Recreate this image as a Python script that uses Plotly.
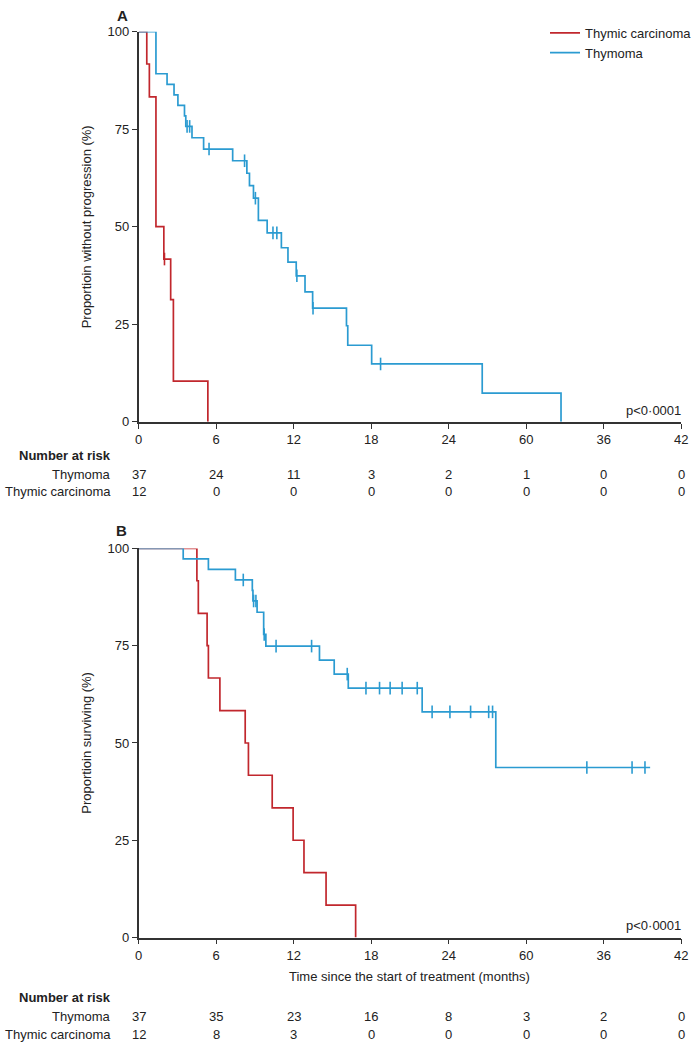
import numpy as np
import plotly.graph_objects as go

W, H = 697, 1050
FONT = "Liberation Sans, Arial, sans-serif"
RED = "#c1272d"
BLUE = "#2b9bd1"
INK = "#222222"

# ---------------- data ----------------
month_ticks = [0, 6, 12, 18, 24, 30, 36, 42]
month_tick_labels = ["0", "6", "12", "18", "24", "60", "36", "42"]

# Panel A: progression-free
pfs_thymoma_t = [0, 1.34, 2.2, 2.74, 3.04, 3.55, 3.65, 4.13, 5.03, 7.28, 8.38, 8.58, 8.89,
                 9.27, 9.95, 11.05, 11.56, 12.2, 12.88, 13.47, 16.09, 16.19, 18.04, 26.6, 32.7]
pfs_thymoma_s = [100, 89.2, 86.5, 83.8, 81.1, 78.4, 75.7, 72.8, 69.9, 66.9, 63.7, 60.5, 57.3,
                 51.6, 48.4, 44.6, 40.9, 37.4, 33.3, 29.1, 24.6, 19.6, 14.8, 7.3, 0]
pfs_thymoma_cens = [3.75, 3.95, 5.45, 8.2, 9.04, 10.4, 10.7, 12.25, 13.5, 18.73]

pfs_carcinoma_t = [0, 0.63, 0.83, 1.34, 1.95, 2.48, 2.69, 5.36]
pfs_carcinoma_s = [100, 91.7, 83.3, 50.0, 41.7, 31.3, 10.4, 0]
pfs_carcinoma_cens = [2.0]

# Panel B: overall survival
os_thymoma_t = [0, 3.45, 5.4, 7.49, 8.8, 8.85, 9.17, 9.68, 9.85, 14.0, 15.14, 16.23, 21.95, 27.65, 39.6]
os_thymoma_s = [100, 97.3, 94.6, 91.9, 89.2, 86.5, 83.6, 77.9, 74.9, 71.3, 67.7, 64.1, 58.0, 43.7, 43.7]
os_thymoma_cens = [8.1, 8.9, 9.08, 9.72, 10.64, 13.39, 16.15, 17.6, 18.65, 19.47, 20.4, 21.57,
                   22.72, 24.1, 25.7, 27.1, 27.4, 34.7, 38.2, 39.2]

os_carcinoma_t = [0, 4.51, 4.62, 5.3, 5.4, 6.29, 8.25, 8.5, 10.34, 11.96, 12.8, 14.51, 16.8]
os_carcinoma_s = [100, 91.7, 83.3, 75.0, 66.7, 58.3, 50.0, 41.7, 33.3, 25.0, 16.7, 8.3, 0]

risk_a_thymoma = [37, 24, 11, 3, 2, 1, 0, 0]
risk_a_carcinoma = [12, 0, 0, 0, 0, 0, 0, 0]
risk_b_thymoma = [37, 35, 23, 16, 8, 3, 2, 0]
risk_b_carcinoma = [12, 8, 3, 0, 0, 0, 0, 0]

group_names = ["Thymoma", "Thymic carcinoma"]

# ---------------- figure ----------------
def px(p):
    return p / W

def py(p):
    return 1 - p / H

fig = go.Figure()

def add_curve(t, s, cens, color, name, xa, ya, showlegend):
    fig.add_trace(go.Scatter(
        x=t, y=s, mode="lines", name=name, showlegend=showlegend,
        line=dict(color=color, width=1.7, shape="hv"),
        xaxis=xa, yaxis=ya, hoverinfo="skip"))
    if cens:
        ta = np.array(t)
        idx = np.searchsorted(ta, np.array(cens), side="right") - 1
        cy = np.array(s)[idx]
        fig.add_trace(go.Scatter(
            x=cens, y=cy, mode="markers", showlegend=False,
            marker=dict(symbol="line-ns-open", size=9, color=color,
                        line=dict(color=color, width=1.6)),
            xaxis=xa, yaxis=ya, hoverinfo="skip", cliponaxis=False))

add_curve(pfs_carcinoma_t, pfs_carcinoma_s, pfs_carcinoma_cens, RED, "Thymic carcinoma", "x", "y", True)
add_curve(pfs_thymoma_t, pfs_thymoma_s, pfs_thymoma_cens, BLUE, "Thymoma", "x", "y", True)
add_curve(os_carcinoma_t, os_carcinoma_s, [], RED, "Thymic carcinoma", "x2", "y2", False)
add_curve(os_thymoma_t, os_thymoma_s, os_thymoma_cens, BLUE, "Thymoma", "x2", "y2", False)

xdom = [px(136.8), px(688)]
axis_common = dict(showline=True, linecolor="#333333", linewidth=1.7, ticks="outside",
                   ticklen=5, tickwidth=1.4, tickcolor="#333333", showgrid=False,
                   zeroline=False, tickfont=dict(family=FONT, size=13, color=INK))
xcommon = dict(axis_common, range=[0, 42], tickvals=month_ticks, ticktext=month_tick_labels)
ycommon = dict(axis_common, range=[0, 100], tickvals=[0, 25, 50, 75, 100])

fig.update_layout(
    width=W, height=H, autosize=False,
    margin=dict(l=0, r=0, t=0, b=0),
    paper_bgcolor="white", plot_bgcolor="white",
    font=dict(family=FONT, size=13, color=INK),
    xaxis=dict(xcommon, domain=xdom, anchor="y"),
    yaxis=dict(ycommon, domain=[py(420.7), py(25)], anchor="x"),
    xaxis2=dict(xcommon, domain=xdom, anchor="y2"),
    yaxis2=dict(ycommon, domain=[py(944), py(549.3)], anchor="x2"),
    legend=dict(x=px(550), y=py(11), xanchor="left", yanchor="top",
                font=dict(family=FONT, size=13, color=INK), bgcolor="rgba(0,0,0,0)",
                itemwidth=30, tracegroupgap=0),
)

ann = []

def note(text, x, y, xanchor="center", yanchor="middle", size=13, angle=0, xref="paper"):
    ann.append(dict(text=text, x=x, y=y, xref=xref, yref="paper", xanchor=xanchor,
                    yanchor=yanchor, textangle=angle, showarrow=False,
                    font=dict(family=FONT, size=size, color=INK)))

# panel letters
note("<b>A</b>", px(120), py(8.5), size=15)
note("<b>B</b>", px(119), py(531.5), size=15)
# y titles
note("Proportioin without progression (%)", px(84), py((25 + 420.7) / 2), angle=-90)
note("Proportioin surviving (%)", px(84), py((549.3 + 944) / 2), angle=-90)
# p values
note("p<0·0001", px(690), py(409), xanchor="right")
note("p<0·0001", px(690), py(932), xanchor="right")
# x title panel B
note("Time since the start of treatment (months)", sum(xdom) / 2, py(984))

def risk_table(xref, y_head, y_rows, rows):
    note("<b>Number at risk</b>", px(111), py(y_head), xanchor="right")
    for name, yy, vals in zip(group_names, y_rows, rows):
        note(name, px(111), py(yy), xanchor="right")
        for m, v in zip(month_ticks, vals):
            note(str(v), m, py(yy), xref=xref)

risk_table("x", 455, [474, 492], [risk_a_thymoma, risk_a_carcinoma])
risk_table("x2", 1005, [1024, 1042], [risk_b_thymoma, risk_b_carcinoma])

fig.update_layout(annotations=ann)
# remove the browser's default 8 px body margin so the figure sits at the page origin
fig.write_html("out.html", config={"displayModeBar": False},
               post_script="document.body.style.margin='0';document.body.style.padding='0';")
